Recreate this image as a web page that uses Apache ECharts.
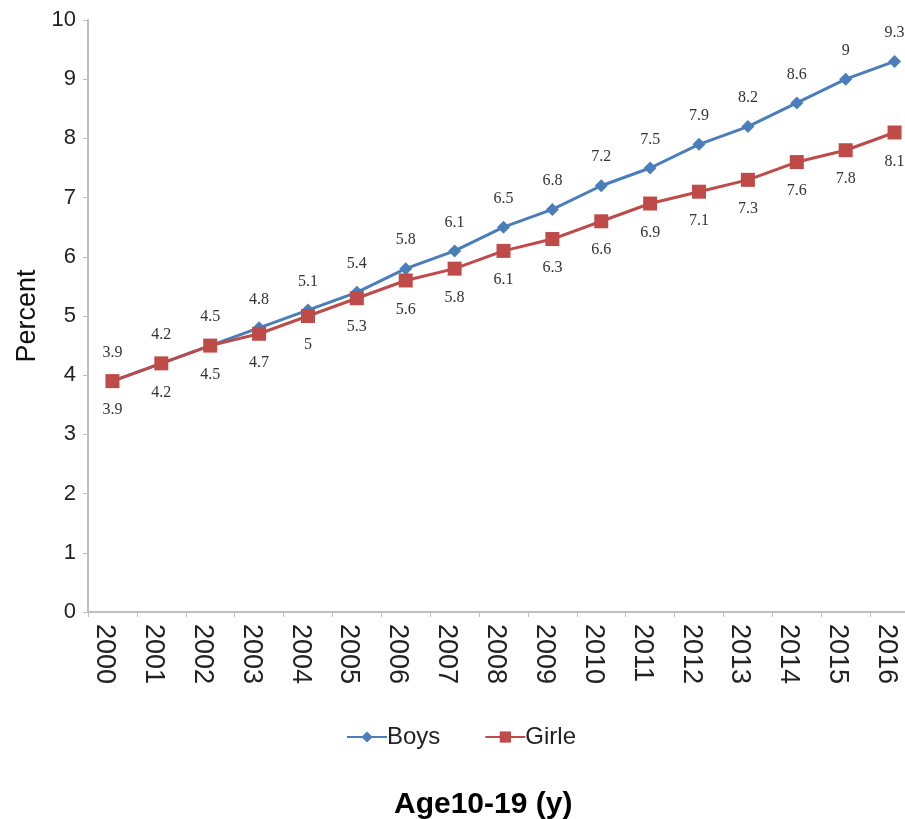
<!DOCTYPE html>
<html>
<head>
<meta charset="utf-8">
<script src="https://cdn.jsdelivr.net/npm/echarts@6/dist/echarts.min.js"></script>
<style>
  html, body { margin: 0; padding: 0; background: #fff; }
  #chart { width: 905px; height: 819px; }
</style>
</head>
<body>
<div id="chart"></div>
<script>
// Prevalence by year, ages 10-19
var years = ['2000','2001','2002','2003','2004','2005','2006','2007','2008',
             '2009','2010','2011','2012','2013','2014','2015','2016'];
var boys  = [3.9, 4.2, 4.5, 4.8, 5.1, 5.4, 5.8, 6.1, 6.5, 6.8, 7.2, 7.5, 7.9, 8.2, 8.6, 9, 9.3];
var girls = [3.9, 4.2, 4.5, 4.7, 5, 5.3, 5.6, 5.8, 6.1, 6.3, 6.6, 6.9, 7.1, 7.3, 7.6, 7.8, 8.1];
var yTicks = [0, 1, 2, 3, 4, 5, 6, 7, 8, 9, 10];

var sans = '"Liberation Sans", Arial, sans-serif';
var serif = '"Liberation Serif", "Times New Roman", serif';
var axisGrey = '#bfbfbf';

var chart = echarts.init(document.getElementById('chart'), null, { renderer: 'canvas' });

chart.setOption({
  animation: false,
  backgroundColor: '#ffffff',
  grid: {
    left: 88, top: 20, width: 831, height: 592,
    containLabel: false,
    outerBoundsMode: 'none'
  },
  xAxis: {
    type: 'category',
    data: years,
    boundaryGap: true,
    axisLine: { lineStyle: { color: axisGrey, width: 2 } },
    axisTick: { show: true, length: 5, alignWithLabel: false, lineStyle: { color: axisGrey, width: 1 } },
    axisLabel: {
      rotate: -90,
      margin: 12,
      verticalAlign: 'top',
      lineHeight: 16,
      fontFamily: sans,
      fontSize: 27,
      color: '#222'
    },
    splitLine: { show: false }
  },
  yAxis: {
    type: 'value',
    min: yTicks[0],
    max: yTicks[yTicks.length - 1],
    interval: 1,
    name: 'Percent',
    nameLocation: 'middle',
    nameGap: 35,
    nameRotate: 90,
    nameTextStyle: { fontFamily: sans, fontSize: 27, color: '#111' },
    axisLine: { show: true, lineStyle: { color: axisGrey, width: 2 } },
    axisTick: { show: true, length: 5, lineStyle: { color: axisGrey, width: 1 } },
    axisLabel: { margin: 12, fontFamily: sans, fontSize: 22, color: '#222' },
    splitLine: { show: false }
  },
  legend: {
    top: 720,
    left: 341,
    itemGap: 44,
    itemWidth: 40,
    itemHeight: 14,
    textStyle: { fontFamily: sans, fontSize: 24, color: '#222', padding: [0, 0, 0, -5] },
    data: ['Boys', 'Girle']
  },
  title: {
    text: 'Age10-19 (y)',
    left: 389,
    top: 785,
    textStyle: { fontFamily: sans, fontSize: 30, fontWeight: 'bold', color: '#000' }
  },
  series: [
    {
      name: 'Boys',
      type: 'line',
      data: boys,
      symbol: 'diamond',
      symbolSize: 13,
      lineStyle: { color: '#4a7ebb', width: 3 },
      itemStyle: { color: '#4a7ebb' },
      label: {
        show: true,
        position: 'top',
        distance: 14,
        fontFamily: serif,
        fontSize: 16,
        color: '#333'
      },
      z: 2
    },
    {
      name: 'Girle',
      type: 'line',
      data: girls,
      symbol: 'rect',
      symbolSize: 14,
      lineStyle: { color: '#be4b48', width: 3 },
      itemStyle: { color: '#be4b48' },
      label: {
        show: true,
        position: 'bottom',
        distance: 14,
        fontFamily: serif,
        fontSize: 16,
        color: '#333'
      },
      z: 3
    }
  ]
});
</script>
</body>
</html>
